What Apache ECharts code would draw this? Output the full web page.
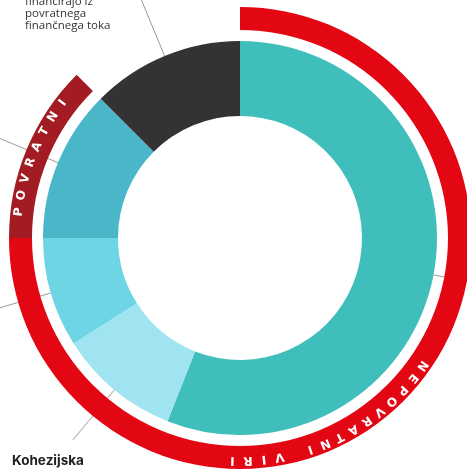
<!DOCTYPE html>
<html>
<head>
<meta charset="utf-8">
<script src="https://cdn.jsdelivr.net/npm/echarts@6/dist/echarts.min.js"></script>
<style>
html,body{margin:0;padding:0;background:#fff;}
#chart{width:467px;height:469px;}
</style>
</head>
<body>
<div id="chart"></div>
<script>
// notranji obroč - deleži
var names = ['Nepovratni A', 'Kohezijska', 'Nepovratni B', 'Povratni', 'financirajo iz\npovratnega\nfinančnega toka'];
var values = [56, 10, 9, 12.5, 12.5];
var colors = ['#40bebb', '#a0e4f1', '#6dd5e3', '#4ab7c9', '#333333'];
var lineLengths = [160, 64, 160, 160, 160];

// zunanji obroč
var ringNames = ['NEPOVRATNI VIRI', 'POVRATNI', ''];
var ringValues = [75, 12.5, 12.5];
var ringColors = ['#e30613', '#a31b23', 'rgba(0,0,0,0)'];
// kot prve črke in razmik (stopinje)
var ringTextStart = [125, 276.7];
var ringTextStep = [4.07, 4.37];

var myChart = echarts.init(document.getElementById('chart'));

var innerData = values.map(function(v, i){
	return {
		name: names[i],
		value: v,
		itemStyle: {color: colors[i]},
		labelLine: {length: lineLengths[i]}
	};
});

var ringData = ringValues.map(function(v, i){
	return {name: ringNames[i], value: v, itemStyle: {color: ringColors[i]}};
});

// črke po obroču
var letterData = [], pos = 0;
for (var k = 0; k < 2; k++) {
	var txt = ringNames[k], step = ringTextStep[k];
	var start = ringTextStart[k] - step / 2;
	letterData.push({value: start - pos, name: 'f' + k, label: {show: false}});
	for (var j = 0; j < txt.length; j++) {
		var mid = start + step * (j + 0.5);
		letterData.push({
			value: step,
			name: 'c' + k + '_' + j,
			label: {show: true, formatter: txt[j], rotate: -mid, fontSize: 12, fontWeight: 'bold', fontFamily: 'DejaVu Sans'}
		});
	}
	pos = start + step * txt.length;
}
letterData.push({value: 360 - pos, name: 'end', label: {show: false}});

myChart.setOption({
	animation: false,
	series: [
		{
			type: 'pie',
			z: 2,
			center: [240, 238],
			radius: [122, 197],
			startAngle: 90,
			avoidLabelOverlap: false,
			silent: true,
			label: {show: true, position: 'outside', formatter: ' ', fontSize: 1},
			labelLine: {
				show: true,
				length2: 1,
				smooth: false,
				minTurnAngle: 0,
				lineStyle: {color: '#9a9a9a', width: 1}
			},
			data: innerData
		},
		{
			type: 'pie',
			z: 3,
			center: [240, 238],
			radius: [208, 231],
			startAngle: 90,
			silent: true,
			label: {show: false},
			labelLine: {show: false},
			data: ringData
		},
		{
			type: 'pie',
			z: 4,
			center: [240, 238],
			radius: [208, 231],
			startAngle: 90,
			silent: true,
			avoidLabelOverlap: false,
			itemStyle: {color: 'rgba(0,0,0,0)'},
			label: {
				position: 'inside',
				color: '#fff'
			},
			labelLine: {show: false},
			data: letterData
		}
	],
	graphic: [
		{
			type: 'text',
			left: 25,
			top: -4,
			style: {text: names[4], font: '11.5px "Open Sans"', fill: '#333', lineHeight: 12}
		},
		{
			type: 'text',
			left: 12,
			top: 454,
			style: {text: names[1], font: 'bold 13.5px Inter', fill: '#222'}
		}
	]
});
</script>
</body>
</html>
